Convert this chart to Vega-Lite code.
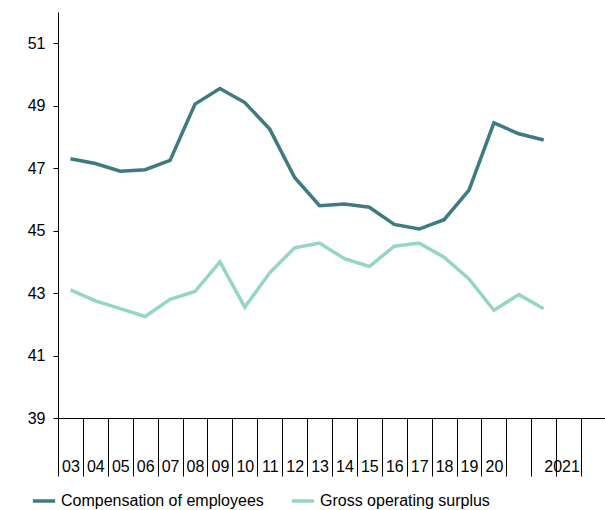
{
  "$schema": "https://vega.github.io/schema/vega-lite/v6.json",
  "width": 548,
  "height": 406,
  "padding": {"left": 27, "top": 12, "right": 0, "bottom": 0},
  "config": {"view": {"stroke": null}, "font": "Liberation Sans", "axis": {"labelFont": "Liberation Sans", "labelColor": "#000", "domainColor": "#000", "tickColor": "#000"}},
  "data": {"values": [
    {"p": "03", "c": 47.3, "g": 43.1}, {"p": "04", "c": 47.15, "g": 42.75},
    {"p": "05", "c": 46.9, "g": 42.5}, {"p": "06", "c": 46.95, "g": 42.25},
    {"p": "07", "c": 47.25, "g": 42.8}, {"p": "08", "c": 49.05, "g": 43.05},
    {"p": "09", "c": 49.55, "g": 44.0}, {"p": "10", "c": 49.1, "g": 42.55},
    {"p": "11", "c": 48.25, "g": 43.65}, {"p": "12", "c": 46.7, "g": 44.45},
    {"p": "13", "c": 45.8, "g": 44.6}, {"p": "14", "c": 45.85, "g": 44.1},
    {"p": "15", "c": 45.75, "g": 43.85}, {"p": "16", "c": 45.2, "g": 44.5},
    {"p": "17", "c": 45.05, "g": 44.6}, {"p": "18", "c": 45.35, "g": 44.15},
    {"p": "19", "c": 46.3, "g": 43.45}, {"p": "20", "c": 48.45, "g": 42.45},
    {"p": "21Q1", "c": 48.1, "g": 42.95}, {"p": "21Q2", "c": 47.9, "g": 42.5}
  ]},
  "transform": [
    {"fold": ["c", "g"], "as": ["k", "v"]},
    {"calculate": "datum.k == 'c' ? 'Compensation of employees' : 'Gross operating surplus'", "as": "series"}
  ],
  "mark": {"type": "line", "strokeWidth": 3.5},
  "encoding": {
    "x": {"field": "p", "type": "ordinal", "title": null, "bandPosition": 0.5,
      "scale": {"type": "band", "domain": ["03","04","05","06","07","08","09","10","11","12","13","14","15","16","17","18","19","20","21Q1","21Q2","21Q3","21Q4"], "paddingInner": 0, "paddingOuter": 0},
      "axis": {"labelAngle": 0, "tickBand": "extent", "tickSize": 58, "labelPadding": -18, "labelFontSize": 16,
        "labelExpr": "datum.value == '21Q2' ? '2021' : (datum.value == '21Q1' || datum.value == '21Q3' || datum.value == '21Q4' ? '' : datum.value)",
        "labelAlign": {"condition": {"test": "datum.value == '21Q2'", "value": "left"}, "value": "center"}}},
    "y": {"field": "v", "type": "quantitative", "title": null,
      "scale": {"domain": [39, 52], "nice": false, "zero": false},
      "axis": {"values": [39, 41, 43, 45, 47, 49, 51], "grid": false, "labelFontSize": 16, "tickSize": 5, "labelPadding": 8}},
    "color": {"field": "series", "type": "nominal", "title": null,
      "scale": {"range": ["#3d7b80", "#95d7bb"]},
      "legend": {"orient": "none", "legendX": -27, "legendY": 476, "direction": "horizontal", "symbolType": "stroke", "symbolStrokeWidth": 3.5, "symbolSize": 500, "labelFontSize": 16, "labelFont": "Liberation Sans", "labelColor": "#000", "columnPadding": 20, "labelLimit": 300}}
  }
}
